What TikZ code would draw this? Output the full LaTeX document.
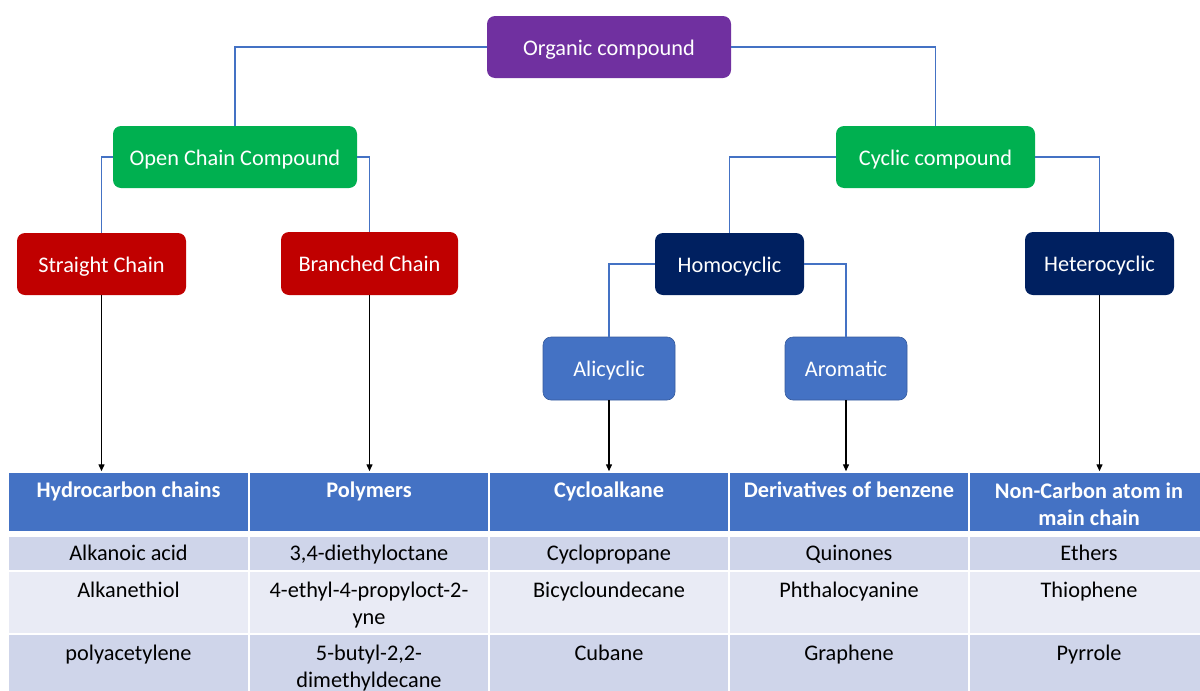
\documentclass[tikz,border=0pt]{standalone}
\usepackage{fontspec}
\setmainfont{Carlito}
\usetikzlibrary{arrows.meta}
\definecolor{cpurple}{HTML}{7030A0}
\definecolor{cgreen}{HTML}{00B050}
\definecolor{cred}{HTML}{C00000}
\definecolor{cnavy}{HTML}{002060}
\definecolor{cblue}{HTML}{4472C4}
\definecolor{rowa}{HTML}{CFD5EA}
\definecolor{rowb}{HTML}{E9EBF5}
\tikzset{
  box/.style={rounded corners=8pt, text=white, inner sep=0pt, font=\fontsize{22.3}{27}\selectfont, text height=18pt, text depth=2pt},
  conn/.style={draw=cblue, line width=1.6pt},
  arr/.style={draw=black, line width=1.4pt, -{Triangle[length=7pt,width=6pt]}},
  hcell/.style={fill=cblue, draw=white, line width=1.5pt, inner sep=0pt},
  bcell/.style={draw=white, line width=1.5pt, inner sep=0pt},
  htext/.style={text=white, font=\bfseries\fontsize{22.3}{27}\selectfont, align=center, inner sep=0pt},
  btext/.style={text=black, font=\fontsize{22.3}{27}\selectfont, align=center, inner sep=0pt},
}
\begin{document}
\begin{tikzpicture}[x=1pt,y=-1pt]
\useasboundingbox (0,0) rectangle (1200,691);
% boxes
\node[box, fill=cpurple, minimum width=244pt, minimum height=62pt] (org) at (609,47) {Organic compound};
\node[box, fill=cgreen, minimum width=244pt, minimum height=62pt] (open) at (235,157) {Open Chain Compound};
\node[box, fill=cgreen, minimum width=199pt, minimum height=62pt] (cyc) at (935.5,157) {Cyclic compound};
\node[box, fill=cred, minimum width=169pt, minimum height=62pt] (sc) at (101.5,264) {Straight Chain};
\node[box, fill=cred, minimum width=177pt, minimum height=63pt] (bc) at (369.5,263.5) {Branched Chain};
\node[box, fill=cnavy, minimum width=149pt, minimum height=62pt] (homo) at (729.5,264) {Homocyclic};
\node[box, fill=cnavy, minimum width=149pt, minimum height=63pt] (het) at (1099.5,263.5) {Heterocyclic};
\node[box, fill=cblue, draw=cblue!80!black, line width=0.6pt, minimum width=132pt, minimum height=63pt] (ali) at (609,368.5) {Alicyclic};
\node[box, fill=cblue, draw=cblue!80!black, line width=0.6pt, minimum width=122pt, minimum height=63pt] (aro) at (846,368.5) {Aromatic};
% connectors
\draw[conn] (org.west) -| (open.north);
\draw[conn] (org.east) -| (cyc.north);
\draw[conn] (open.west) -| (sc.north);
\draw[conn] (open.east) -| (bc.north);
\draw[conn] (cyc.west) -| (homo.north);
\draw[conn] (cyc.east) -| (het.north);
\draw[conn] (homo.west) -| (ali.north);
\draw[conn] (homo.east) -| (aro.north);
% table header cells
\node[hcell, minimum width=241pt, minimum height=60pt] (h1) at (128.5,502) {};
\node[hcell, minimum width=240pt, minimum height=60pt] (h2) at (369,502) {};
\node[hcell, minimum width=240pt, minimum height=60pt] (h3) at (609,502) {};
\node[hcell, minimum width=240pt, minimum height=60pt] (h4) at (849,502) {};
\node[hcell, minimum width=240pt, minimum height=60pt] (h5) at (1089,502) {};
% body rows
\foreach \cx/\w/\n in {128.5/241/1, 369/240/2, 609/240/3, 849/240/4, 1089/240/5}{
  \node[bcell, fill=rowa, minimum width=\w pt, minimum height=34pt] (ra\n) at (\cx,553.5) {};
  \node[bcell, fill=rowb, minimum width=\w pt, minimum height=63pt] (rb\n) at (\cx,602.5) {};
  \node[bcell, fill=rowa, minimum width=\w pt, minimum height=60pt] (rc\n) at (\cx,664) {};
}
% header text
\node[htext, anchor=base] (t1) at (128.5,497) {Hydrocarbon chains};
\node[htext, anchor=base] (t2) at (369,497) {Polymers};
\node[htext, anchor=base] (t3) at (609,497) {Cycloalkane};
\node[htext, anchor=base] (t4) at (849,497) {Derivatives of benzene};
\node[htext] (t5) at (1089,504) {Non-Carbon atom in\\main chain};
% body text
\node[btext, anchor=base] (a1) at (128.5,560) {Alkanoic acid};
\node[btext, anchor=base] (a2) at (369,560) {3,4-diethyloctane};
\node[btext, anchor=base] (a3) at (609,560) {Cyclopropane};
\node[btext, anchor=base] (a4) at (849,560) {Quinones};
\node[btext, anchor=base] (a5) at (1089,560) {Ethers};
\node[btext, anchor=base] (b1) at (128.5,597) {Alkanethiol};
\node[btext] (b2) at (369,605) {4-ethyl-4-propyloct-2-\\yne};
\node[btext, anchor=base] (b3) at (609,597) {Bicycloundecane};
\node[btext, anchor=base] (b4) at (849,597) {Phthalocyanine};
\node[btext, anchor=base] (b5) at (1089,597) {Thiophene};
\node[btext, anchor=base] (c1) at (128.5,660) {polyacetylene};
\node[btext] (c2) at (369,668) {5-butyl-2,2-\\dimethyldecane};
\node[btext, anchor=base] (c3) at (609,660) {Cubane};
\node[btext, anchor=base] (c4) at (849,660) {Graphene};
\node[btext, anchor=base] (c5) at (1089,660) {Pyrrole};
% arrows
\draw[arr] (sc.south) -- (sc.south |- h1.north);
\draw[arr] (bc.south) -- (bc.south |- h2.north);
\draw[arr] (ali.south) -- (ali.south |- h3.north);
\draw[arr] (aro.south) -- (aro.south |- h4.north);
\draw[arr] (het.south) -- (het.south |- h5.north);
\end{tikzpicture}
\end{document}
